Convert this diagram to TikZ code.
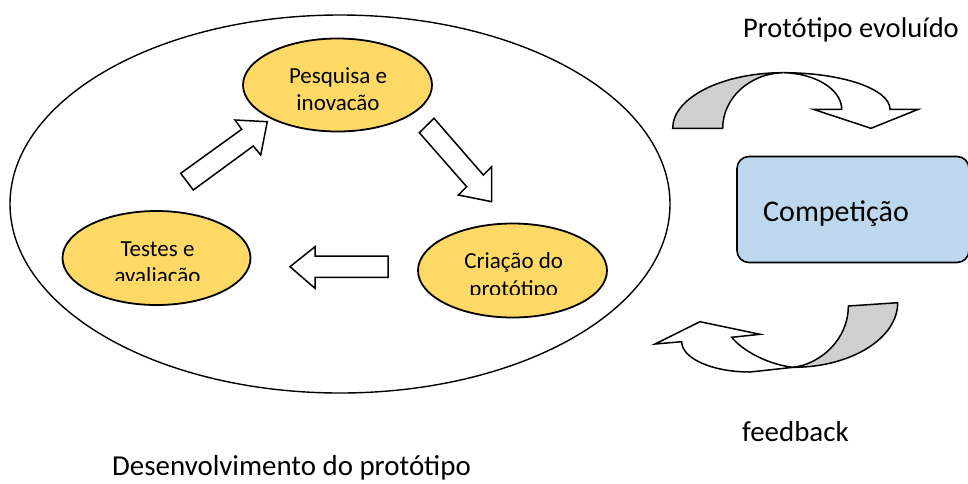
\documentclass[tikz,border=0pt]{standalone}
\usepackage{fontspec}
\setmainfont{Carlito}
\usetikzlibrary{shapes.geometric}
\definecolor{yel}{HTML}{FFD966}
\definecolor{blu}{HTML}{BDD7EE}
\definecolor{gry}{HTML}{CFCFCF}
\begin{document}
\begin{tikzpicture}[x=1pt,y=-1pt,
  lbl/.style={font=\fontsize{28.9}{34}\selectfont, inner sep=0, anchor=base west},
  etxt/.style={font=\fontsize{23}{27}\selectfont, inner sep=0, anchor=base},
  ell/.style={ellipse, draw, line width=1.8pt, fill=yel, inner sep=0},
  blk/.style={draw, line width=1.5pt, fill=white, line join=miter},
  bent/.style={draw, line width=1.5pt, line join=miter},
]
\useasboundingbox (0,0) rectangle (968,483);
\clip (0,0) rectangle (968,483);
% outer ellipse
\node[draw, ellipse, line width=1.4pt, minimum width=660pt, minimum height=378pt, inner sep=0] (dev) at (340,204) {};
% inner ellipses
\node[ell, minimum width=189pt, minimum height=93pt] (pesq) at (337.5,85) {};
\node[ell, minimum width=188pt, minimum height=94pt] (test) at (156.5,258) {};
\node[ell, minimum width=189pt, minimum height=94pt] (cria) at (512.5,270.5) {};
% ellipse texts
\node[etxt] (pesq1) at (338,83.3) {Pesquisa e};
\node[etxt] (pesq2) at (338,110.7) {inovacão};
\begin{scope}
  \clip (60,225) rectangle (255,280.8);
  \node[etxt] (test1) at (157.5,256) {Testes e};
  \node[etxt] (test2) at (157.5,283.4) {avaliação};
\end{scope}
\begin{scope}
  \clip (415,235) rectangle (610,294.3);
  \node[etxt] (cria1) at (513.7,268.7) {Criação do};
  \node[etxt] (cria2) at (513.7,296) {protótipo};
\end{scope}
% block arrows
\draw[blk] (180.7,173.3) -- (241.7,129.3) -- (235,120) -- (267.3,121.7) -- (260.7,155) -- (253.3,146) -- (193.3,190) -- cycle;
\draw[blk] (434,118.3) -- (483.3,175) -- (491.7,166.7) -- (491.7,201.7) -- (458.3,195) -- (466.7,186.7) -- (419.3,132.7) -- cycle;
\draw[blk] (388,256) -- (315,256) -- (315,246.7) -- (290,266.7) -- (315,288.3) -- (315,277.3) -- (388,277.3) -- cycle;
% competition box
\node[draw, rounded corners=12pt, fill=blu, line width=1.6pt, minimum width=232pt, minimum height=106pt, inner sep=0] (comp) at (853,209.5) {};
\node[lbl, font=\fontsize{30}{36}\selectfont] (comptxt) at (763,221.7) {Competição};
% top curved arrow
\filldraw[bent, fill=gry] (672.7,128.3) .. controls (672.7,97.6) and (722.3,72.7) .. (783.3,72.7)
  .. controls (749.8,73.3) and (722.7,98) .. (722.7,128.3) -- cycle;
\filldraw[bent, fill=white] (783.3,72.7) .. controls (842.2,72.7) and (890,89.1) .. (890,109.3)
  -- (918.3,109.3) -- (871,128.3) -- (813.3,109.3) -- (841.7,109.3)
  .. controls (841.7,89.5) and (815.5,73.3) .. (783.3,72.7) -- cycle;
% bottom curved arrow
\filldraw[bent, fill=gry] (848.3,306) -- (897.7,302.7) .. controls (897.7,338.3) and (851,367.3) .. (793.3,367.3)
  .. controls (820,364) and (848.3,339.9) .. (848.3,306) -- cycle;
\filldraw[bent, fill=white] (793.3,367.3) -- (750,372) .. controls (712.3,372) and (681.7,358.4) .. (681.7,341.7)
  -- (655,344) -- (700,321.7) -- (760,334.3) -- (731.7,337.3)
  .. controls (743.3,351.7) and (770,365) .. (793.3,367.3) -- cycle;
% outer labels
\node[lbl, font=\fontsize{28.5}{34}\selectfont] (evol) at (743,37.5) {Protótipo evoluído};
\node[lbl] (fb) at (742,441.5) {feedback};
\node[lbl] (desc) at (112,475.5) {Desenvolvimento do protótipo};
\end{tikzpicture}
\end{document}
